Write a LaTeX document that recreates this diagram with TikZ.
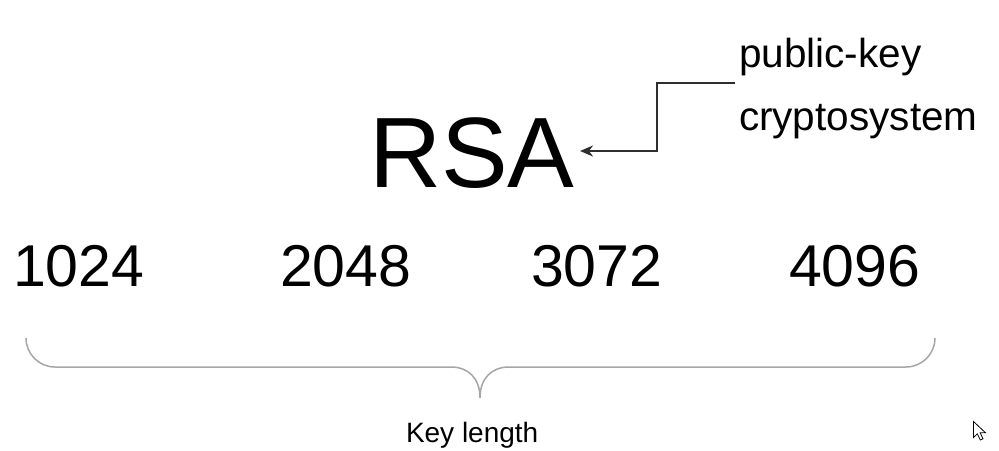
\documentclass[tikz,border=0pt]{standalone}
\usepackage{fontspec}
\setmainfont{Liberation Sans}
\usetikzlibrary{arrows.meta}
\tikzset{
  txt/.style={inner sep=0pt, outer sep=0pt, anchor=base west, text=black},
  numtxt/.style={txt, font=\fontsize{59}{59}\selectfont},
  conn/.style={draw=black!82, line width=1.4pt, -{Stealth[length=13pt,width=11pt,inset=4pt]}},
  bracepath/.style={draw=black!35, line width=1.5pt},
}
\begin{document}
\begin{tikzpicture}[x=1pt,y=-1pt]
\useasboundingbox (0,0) rectangle (999,450);
% title
\node[txt, font=\fontsize{100}{100}\selectfont] (rsa) at (369,187) {RSA};
\node[txt, font=\fontsize{40.5}{40.5}\selectfont] (pk) at (739,67) {public-key};
\node[txt, font=\fontsize{40.5}{40.5}\selectfont] (cs) at (739,130) {cryptosystem};
% numbers
\node[numtxt] (n1) at (13,286) {1024};
\node[numtxt] (n2) at (280,286) {2048};
\node[numtxt] (n3) at (531,286) {3072};
\node[numtxt] (n4) at (789,286) {4096};
\node[txt, font=\fontsize{28}{28}\selectfont] (kl) at (406,442) {Key length};
% connector
\coordinate (start) at (735,83);
\coordinate (tip) at (580,151);
\draw[conn] (start) -- (657,83) |- (tip);
% brace
\coordinate (bl) at (26,338);
\coordinate (br) at (935,338);
\coordinate (bm) at (480,398);
\draw[bracepath] (bl) .. controls (26,354) and (39,367) .. (55,367) -- (451,367)
  .. controls (468,367) and (480,378) .. (bm)
  .. controls (480,378) and (492,367) .. (509,367) -- (906,367)
  .. controls (922,367) and (935,354) .. (br);
% mouse cursor
\draw[black, fill=white, line width=0.8pt, line join=miter]
  (973.5,421.5) -- (973.5,437.5) -- (977.3,433.8) -- (980.3,440) -- (983,438.8)
  -- (980.2,432.8) -- (985.5,432.8) -- cycle;
\end{tikzpicture}
\end{document}
